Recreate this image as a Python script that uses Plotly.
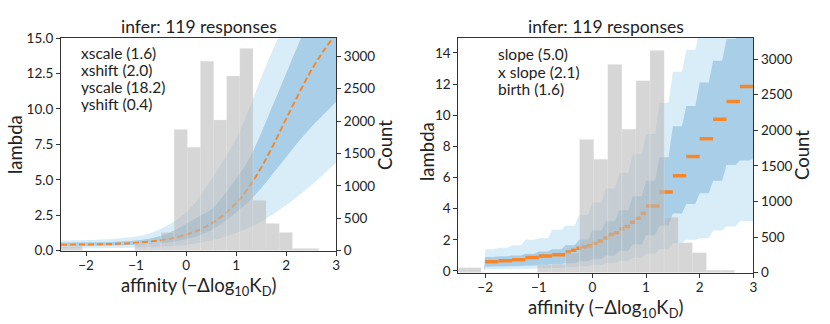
import plotly.graph_objects as go

# histogram of inferred affinities (shared by both panels)
bin_edges = [-2.6, -2.3375, -2.075, -1.8125, -1.55, -1.2875, -1.025, -0.7625, -0.5, -0.2375,
             0.025, 0.2875, 0.55, 0.8125, 1.075, 1.3375, 1.6, 1.8625, 2.125, 2.3875, 2.65]
counts = [70, 70, 0, 0, 0, 0, 110, 120, 280, 1870, 1595, 2925, 2015, 2695, 3120, 780, 420, 280, 35, 35]

# left panel: sigmoid response, median and 68% / 95% bands
xl = [-2.5, -2.25, -2.0, -1.75, -1.5, -1.25, -1.0, -0.75, -0.5, -0.25, 0.0, 0.25,
      0.5, 0.75, 1.0, 1.25, 1.5, 1.75, 2.0, 2.25, 2.5, 2.75, 3.0]
mid_l = [0.42, 0.43, 0.44, 0.46, 0.48, 0.51, 0.56, 0.63, 0.74, 0.90, 1.13, 1.45,
         1.90, 2.52, 3.35, 4.45, 5.85, 7.50, 9.30, 11.05, 12.70, 14.10, 15.30]
hi95_l = [0.72, 0.73, 0.75, 0.78, 0.82, 0.90, 1.00, 1.20, 1.55, 2.05, 2.70, 3.70,
          5.00, 6.40, 7.90, 9.90, 12.20, 14.30, 16.20, 18.0, 19.5, 20.5, 21.5]
hi68_l = [0.58, 0.58, 0.59, 0.60, 0.62, 0.66, 0.72, 0.84, 1.05, 1.40, 1.90, 2.40,
          2.90, 3.90, 5.10, 6.40, 8.30, 10.40, 12.50, 14.60, 16.5, 18.0, 19.5]
lo68_l = [0.33, 0.33, 0.34, 0.35, 0.37, 0.39, 0.42, 0.47, 0.54, 0.64, 0.80, 1.05,
          1.45, 2.00, 2.70, 3.45, 4.40, 5.50, 6.60, 7.70, 8.70, 9.60, 10.50]
lo95_l = [0.17, 0.17, 0.17, 0.18, 0.19, 0.20, 0.22, 0.25, 0.28, 0.33, 0.42, 0.55,
          0.72, 0.95, 1.25, 1.60, 2.05, 2.60, 3.20, 3.90, 4.60, 5.40, 6.20]

# right panel: stepwise response, band levels on a step grid
xr = [-2.05, -2.0, -1.75, -1.5, -1.25, -1.0, -0.75, -0.5, -0.25, 0.0, 0.25, 0.5, 0.75,
      1.0, 1.25, 1.5, 1.75, 2.0, 2.25, 2.5, 2.75, 3.0]
hi95_r = [0.0, 1.4, 1.5, 1.65, 2.0, 2.1, 2.65, 2.9, 3.6, 4.4, 5.3, 6.3, 7.5,
          8.8, 10.8, 12.8, 14.2, 15.5, 17.0, 18.0, 19.0, 20.0]
hi68_r = [0.0, 0.9, 0.95, 1.0, 1.1, 1.25, 1.4, 1.65, 2.0, 2.6, 3.2, 3.9, 4.8,
          5.8, 7.3, 9.3, 10.6, 12.1, 13.5, 14.9, 16.0, 17.0]
lo68_r = [0.0, 0.28, 0.30, 0.32, 0.34, 0.38, 0.43, 0.52, 0.62, 0.78, 1.0, 1.3, 1.7,
          2.3, 2.9, 3.7, 4.3, 5.0, 5.8, 6.8, 7.1, 7.2]
lo95_r = [0.0, 0.12, 0.13, 0.14, 0.15, 0.17, 0.20, 0.25, 0.30, 0.40, 0.50, 0.65, 0.85,
          1.1, 1.4, 1.8, 2.0, 2.1, 2.6, 2.85, 3.2, 3.2]

# right panel median, drawn as short horizontal segments
seg_x0 = [-2.0, -1.75, -1.5, -1.25, -1.0, -0.75, -0.5, -0.4, -0.3, -0.2, -0.1, 0.0, 0.1, 0.2,
          0.3, 0.4, 0.5, 0.6, 0.7, 0.8, 0.9, 1.0, 1.25, 1.5, 1.75, 2.0, 2.25, 2.5, 2.75]
seg_x1 = [-1.75, -1.5, -1.25, -1.0, -0.75, -0.5, -0.4, -0.3, -0.2, -0.1, 0.0, 0.1, 0.2, 0.3,
          0.4, 0.5, 0.6, 0.7, 0.8, 0.9, 1.0, 1.25, 1.5, 1.75, 2.0, 2.25, 2.5, 2.75, 3.0]
seg_y = [0.60, 0.66, 0.73, 0.86, 0.96, 1.05, 1.22, 1.33, 1.46, 1.55, 1.62, 1.78, 1.93, 2.12,
         2.34, 2.46, 2.72, 2.85, 3.13, 3.39, 3.71, 4.18, 5.08, 6.11, 7.35, 8.49, 9.75, 10.89, 11.85]

FONT = "Lato"
INK = "#222222"
OUTER = "rgba(110,190,230,0.27)"
INNER = "rgba(60,140,195,0.30)"
GRAY = "rgba(185,185,185,0.58)"
ORANGE = "#f5872a"

centers = [(a + b) / 2 for a, b in zip(bin_edges[:-1], bin_edges[1:])]
widths = [b - a for a, b in zip(bin_edges[:-1], bin_edges[1:])]


def stairs(x, v):
    # flat run on each step, short ramp up to the next level
    px, pv = [], []
    for i in range(len(x) - 1):
        r = min(0.08, 0.4 * (x[i + 1] - x[i]))
        px += [x[i], x[i + 1] - r]
        pv += [v[i], v[i]]
    px.append(x[-1])
    pv.append(v[-1])
    return px, pv


fig = go.Figure()


def add_band(x, lo, hi, color, xa, ya, shape):
    fig.add_trace(go.Scatter(x=x, y=lo, mode="lines", line=dict(width=0, shape=shape),
                             xaxis=xa, yaxis=ya, showlegend=False, hoverinfo="skip"))
    fig.add_trace(go.Scatter(x=x, y=hi, mode="lines", line=dict(width=0, shape=shape),
                             fill="tonexty", fillcolor=color,
                             xaxis=xa, yaxis=ya, showlegend=False, hoverinfo="skip"))


# left panel
add_band(xl, lo95_l, hi95_l, OUTER, "x", "y", "spline")
add_band(xl, lo68_l, hi68_l, INNER, "x", "y", "spline")
fig.add_trace(go.Scatter(x=xl, y=mid_l, mode="lines", xaxis="x", yaxis="y",
                         line=dict(color=ORANGE, width=2, dash="6px,3px", shape="spline"),
                         showlegend=False))
fig.add_trace(go.Bar(x=centers, y=counts, width=widths, xaxis="x", yaxis="y2",
                     marker=dict(color=GRAY, line=dict(width=0.5, color="rgba(230,230,230,0.6)")),
                     showlegend=False))

# right panel
sx95, slo95 = stairs(xr, lo95_r)
_, shi95 = stairs(xr, hi95_r)
sx68, slo68 = stairs(xr, lo68_r)
_, shi68 = stairs(xr, hi68_r)
add_band(sx95, slo95, shi95, OUTER, "x2", "y3", "linear")
add_band(sx68, slo68, shi68, INNER, "x2", "y3", "linear")
sx, sy = [], []
for a, b, v in zip(seg_x0, seg_x1, seg_y):
    sx += [a, b, None]
    sy += [v, v, None]
fig.add_trace(go.Scatter(x=sx, y=sy, mode="lines", xaxis="x2", yaxis="y3",
                         line=dict(color=ORANGE, width=3.5), showlegend=False))
fig.add_trace(go.Bar(x=centers, y=counts, width=widths, xaxis="x2", yaxis="y4",
                     marker=dict(color=GRAY, line=dict(width=0.5, color="rgba(230,230,230,0.6)")),
                     showlegend=False))

axis_common = dict(showline=True, linecolor="#333333", linewidth=1, ticks="outside",
                   ticklen=4, tickcolor="#333333", showgrid=False, zeroline=False,
                   tickfont=dict(family=FONT, size=13.5, color=INK))
xticks = dict(tickvals=[-2, -1, 0, 1, 2, 3],
              ticktext=["\u22122", "\u22121", "0", "1", "2", "3"], ticklabelstandoff=-2)

fig.update_layout(
    width=830, height=324, margin=dict(l=0, r=0, t=0, b=0, autoexpand=False),
    paper_bgcolor="white", plot_bgcolor="white", barmode="overlay",
    font=dict(family=FONT, color=INK),
    xaxis=dict(domain=[0.0735, 0.405], range=[-2.5, 3], anchor="y", mirror=True,
               **xticks, **axis_common),
    yaxis=dict(domain=[0.2262, 0.8827], range=[0, 15], anchor="x", dtick=2.5,
               tickformat=".1f", **axis_common),
    yaxis2=dict(overlaying="y", side="right", range=[0, 3282], anchor="x", dtick=500,
                **axis_common),
    xaxis2=dict(domain=[0.5522, 0.9076], range=[-2.5, 3], anchor="y3", mirror=True,
                **xticks, **axis_common),
    yaxis3=dict(domain=[0.1583, 0.8827], range=[-0.11, 14.96], anchor="x2", dtick=2,
                **axis_common),
    yaxis4=dict(overlaying="y3", side="right", range=[0, 3296], anchor="x2", dtick=500,
                **axis_common),
)

XT = "affinity (\u2212\u0394log<sub>10</sub>K<sub>D</sub>)"
annotations = [
    # titles
    dict(x=0.2395, y=1 - 26 / 324, text="infer: 119 responses", font=dict(size=17.5)),
    dict(x=0.7299, y=1 - 26 / 324, text="infer: 119 responses", font=dict(size=17.5)),
    # x axis titles
    dict(x=0.2395, y=1 - 272 / 324, text=XT, yanchor="top", font=dict(size=18.5)),
    dict(x=0.7299, y=1 - 294 / 324, text=XT, yanchor="top", font=dict(size=18.5)),
    # y axis titles
    dict(x=15 / 830, y=1 - 145 / 324, text="lambda", textangle=-90, font=dict(size=18.5)),
    dict(x=385 / 830, y=1 - 145 / 324, text="Count", textangle=-90, font=dict(size=18.5)),
    dict(x=427 / 830, y=1 - 152 / 324, text="lambda", textangle=-90, font=dict(size=18.5)),
    dict(x=802 / 830, y=1 - 155 / 324, text="Count", textangle=-90, font=dict(size=18.5)),
]
# parameter text, one annotation per line
for i, line in enumerate(["xscale (1.6)", "xshift (2.0)", "yscale (18.2)", "yshift (0.4)"]):
    annotations.append(dict(x=79 / 830, y=1 - (53.5 + 16.9 * i) / 324, text=line, height=16,
                            xanchor="left", font=dict(size=15.5)))
for i, line in enumerate(["slope (5.0)", "x slope (2.1)", "birth (1.6)"]):
    annotations.append(dict(x=496 / 830, y=1 - (54.5 + 17 * i) / 324, text=line, height=16,
                            xanchor="left", font=dict(size=15.5)))
for a in annotations:
    a.setdefault("xanchor", "center")
    a.setdefault("yanchor", "middle")
    a.update(xref="paper", yref="paper", showarrow=False)
    a["font"] = dict(family=FONT, color=INK, **a["font"])
fig.update_layout(annotations=annotations)

fig.write_html("out.html", config={"displayModeBar": False},
               post_script="document.body.style.margin='0px';document.body.style.overflow='hidden';")
